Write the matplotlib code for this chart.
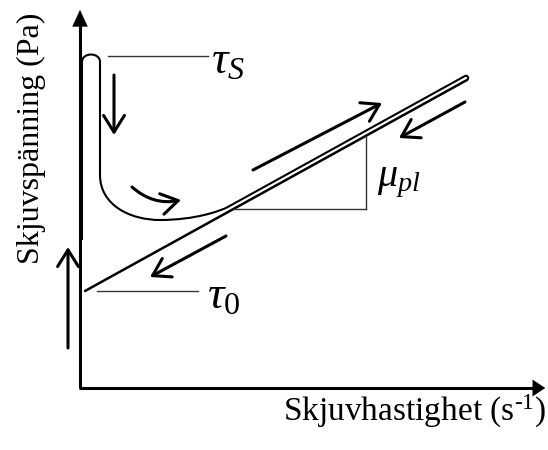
import numpy as np
import matplotlib.pyplot as plt
from matplotlib.path import Path
from matplotlib.patches import PathPatch

plt.rcParams['mathtext.fontset'] = 'custom'
plt.rcParams['mathtext.rm'] = 'Liberation Serif'
plt.rcParams['mathtext.it'] = 'Liberation Serif:italic'
plt.rcParams['mathtext.bf'] = 'Liberation Serif:bold'
plt.rcParams['font.family'] = ['Liberation Serif', 'DejaVu Serif']

# axes frame (pixel coords, y grows downward)
origin = (80, 388)
y_tip = (80, 7)
x_tip = (548, 388)

# Bingham line: tau0 intercept and far end
line_start = (85, 291)
line_end = (467, 80)
band_from_x = 240
band_gap = 4.5

# thixotropic start-up curve up to where it meets the line (Bezier control points)
curve_pts = [(82, 240), (82, 62),
             (82, 52), (100, 52), (100, 62),
             (100, 175),
             (100, 205), (130, 220), (160, 220),
             (195, 220), (220, 211)]
curve_codes = [Path.MOVETO, Path.LINETO,
               Path.CURVE4, Path.CURVE4, Path.CURVE4,
               Path.LINETO,
               Path.CURVE4, Path.CURVE4, Path.CURVE4,
               Path.CURVE4, Path.CURVE4]

# direction arrows (start, end)
arrows = [((114, 75), (114, 135)),
          ((253, 170), (382, 103)),
          ((465, 102), (399, 138)),
          ((226, 236), (150, 277)),
          ((68, 348), (68, 247))]
curved_arrow = ((132, 187), (181, 200))

# reference levels and slope triangle
tau_s_line = ((108, 56), (208, 56))
tau_0_line = ((97, 291), (198, 291))
tri_h = ((233, 209), (366, 209))
tri_v = ((366, 209), (366, 136))

labels = [(r'$\mathit{\tau_S}$', 211, 62, 33), (r'$\mathit{\tau_0}$', 207, 297, 33),
          (r'$\mathit{\mu_{pl}}$', 377, 182, 29)]

fig = plt.figure(figsize=(5.48, 4.5), dpi=100)
ax = fig.add_axes([0, 0, 1, 1])
ax.set_xlim(0, 548)
ax.set_ylim(450, 0)
ax.axis('off')

# axes with filled heads
ax.plot([origin[0], origin[0]], [origin[1], y_tip[1] + 14], color='black', lw=2.2, solid_capstyle='butt')
ax.plot([origin[0] - 1, x_tip[0] - 10], [origin[1], origin[1]], color='black', lw=2.2, solid_capstyle='butt')
ax.annotate('', xy=y_tip, xytext=(y_tip[0], y_tip[1] + 20),
            arrowprops=dict(arrowstyle='-|>,head_length=1.2,head_width=0.55', color='black', lw=0.1))
ax.annotate('', xy=x_tip, xytext=(x_tip[0] - 20, x_tip[1]),
            arrowprops=dict(arrowstyle='-|>,head_length=0.9,head_width=0.6', color='black', lw=0.1))

# straight flow line
ax.plot([line_start[0], line_end[0]], [line_start[1], line_end[1]], color='black', lw=1.8, solid_capstyle='round')

# the curve runs on parallel to the line and turns back onto it at the far end
d = np.array(line_end, float) - np.array(line_start, float)
d /= np.hypot(*d)
n = np.array([d[1], -d[0]])
slope = d[1] / d[0]
join = np.array([band_from_x, line_start[1] + slope * (band_from_x - line_start[0])]) + n * band_gap
top_end = np.array(line_end, float) + n * band_gap
k = band_gap / 2 * 4 / 3
pts = curve_pts + [tuple(join - d * 12), tuple(join), tuple(top_end),
                   tuple(top_end + d * k), tuple(np.array(line_end) + d * k), line_end]
codes = curve_codes + [Path.CURVE4, Path.LINETO, Path.LINETO,
                       Path.CURVE4, Path.CURVE4, Path.CURVE4]
ax.add_patch(PathPatch(Path(pts, codes), facecolor='none', edgecolor='black', lw=1.5))

for a, b in arrows:
    ax.annotate('', xy=b, xytext=a,
                arrowprops=dict(arrowstyle='->,head_length=1.2,head_width=0.75', color='black', lw=2.2,
                                shrinkA=0, shrinkB=0))
ax.annotate('', xy=curved_arrow[1], xytext=curved_arrow[0],
            arrowprops=dict(arrowstyle='->,head_length=1.2,head_width=0.75', color='black', lw=2.2,
                            shrinkA=0, shrinkB=0, connectionstyle='arc3,rad=0.25'))

for seg in [tau_s_line, tau_0_line, tri_h, tri_v]:
    ax.plot([seg[0][0], seg[1][0]], [seg[0][1], seg[1][1]], color='#333333', lw=1.0)

for txt, x, y, fs in labels:
    ax.text(x, y, txt, fontsize=fs, ha='left', va='center')

ax.text(546, 421, r'Skjuvhastighet (s$^{\text{-}1}$)', fontsize=24, ha='right', va='baseline')
ax.text(31, 138, 'Skjuvspänning (Pa)', fontsize=23, ha='center', va='center', rotation=90)

fig.savefig('out.png', dpi=100)
